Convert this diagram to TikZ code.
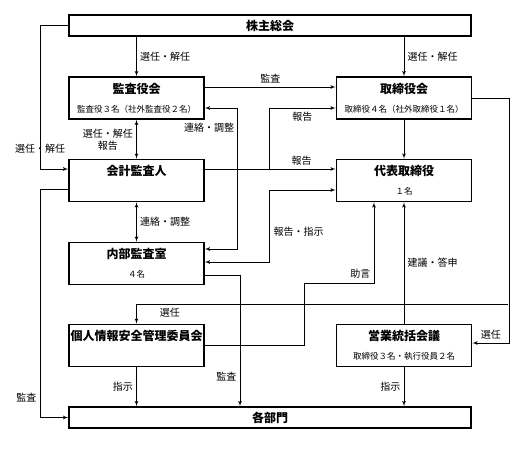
\documentclass[tikz,border=0pt]{standalone}
\usepackage{fontspec}
\setmainfont{Noto Sans CJK JP}
\usepackage{tikz}
\usetikzlibrary{arrows}
\usetikzlibrary{positioning}

\newcommand{\headsub}[2]{{\fontsize{12}{12}\selectfont\bfseries #1}\\[7pt]{\fontsize{8.5}{8.5}\selectfont #2}}

\begin{document}
\begin{tikzpicture}[x=1pt,y=-1pt,>=latex',thick,
	box/.style={draw,line width=1.6pt,minimum width=135pt,minimum height=42pt,inner sep=0pt,align=center},
	wide box/.style={box,minimum width=402pt,minimum height=21pt,font=\fontsize{12}{12}\selectfont\bfseries},
	every edge/.style={draw,line width=0.8pt}]

	\useasboundingbox (0,0) rectangle (527,448);

	\node[wide box] (kabu) at (270,25.5) {株主総会};
	\node[box] (kansa) at (136.5,98) {\headsub{監査役会}{監査役３名（社外監査役２名）}};
	\node[box] (tori) at (404,98) {\headsub{取締役会}{取締役４名（社外取締役１名）}};
	\node[box] (kaikei) at (136.5,180.5) {\headsub{会計監査人}{\phantom{名}}};
	\node[box] (daihyo) at (404,180.5) {\headsub{代表取締役}{１名}};
	\node[box] (naibu) at (136.5,263.5) {\headsub{内部監査室}{４名}};
	\node[box] (kojin) at (136.5,345.5) {\headsub{個人情報安全管理委員会}{\phantom{名}}};
	\node[box] (eigyo) at (404,345.5) {\headsub{営業統括会議}{取締役３名・執行役員２名}};
	\node[wide box] (bumon) at (270,417.5) {各部門};

	\coordinate (j1) at (269,169);
	\coordinate (j2) at (508,304);

	\path[every node/.style={font=\fontsize{10}{12}\selectfont}]
		(kabu.south -| kansa.north) edge[->] node [right] {選任・解任} (kansa)
		(kabu.south -| tori.north) edge[->] node [right] {選任・解任} (tori)
		(kansa) edge[<->] node [left,align=center] {選任・解任\\報告} (kaikei)
		(kaikei) edge[<->] node [right] {連絡・調整} (naibu)
		(tori) edge[->] (daihyo)
		(eigyo) edge[->] node [right] {建議・答申} (daihyo)
		(kojin) edge[->] node [left] {指示} (kojin.south |- bumon.north)
		(eigyo) edge[->] node [left] {指示} (eigyo.south |- bumon.north);

	\begin{scope}[line width=0.8pt,every node/.style={font=\fontsize{10}{12}\selectfont}]
	\draw[->] ([yshift=11pt]kansa.east) -- ([yshift=11pt]tori.west) node[above,midway] {監査};
	\draw[<->] ([yshift=-10pt]kansa.east) -- ++(33,0) |- ([yshift=14.5pt]naibu.east) node[left,pos=0.07] {連絡・調整};
	\draw[->] (kabu.west) -- ++(-28,0) |- ([yshift=11.5pt]kaikei.west) node[pos=0.43] {選任・解任};
	\draw[->] ([yshift=-8.5pt]kaikei.west) -- ++(-28,0) |- (bumon.west) node[left,pos=0.457] {監査};
	\draw[->] ([yshift=11.5pt]kaikei.east) -- ([yshift=11.5pt]daihyo.west) node[above,pos=0.74] {報告};
	\draw[->] (j1) |- ([yshift=-10pt]tori.west) node[below,pos=0.75] {報告};
	\draw[<->] ([yshift=1.5pt]naibu.east) -- ++(65,0) |- ([yshift=-9.5pt]daihyo.west) node[right,pos=0.21] {報告・指示};
	\draw[->] (tori.east) -- ++(37,0) |- ([yshift=2.5pt]eigyo.east) node[above,pos=0.75] {選任};
	\draw[->] (j2) -| (kojin.north) node[below,pos=0.455] {選任};
	\draw[->] ([yshift=0.5pt]kojin.east) -- ++(100,0) -- ++(0,-62) -| ([xshift=-30pt]daihyo.south) node[left,pos=0.556] {助言};
	\draw[->] ([yshift=-11.5pt]naibu.east) -| ([xshift=-30pt]bumon.north) node[left,pos=0.886] {監査};
	\end{scope}

\end{tikzpicture}
\end{document}
